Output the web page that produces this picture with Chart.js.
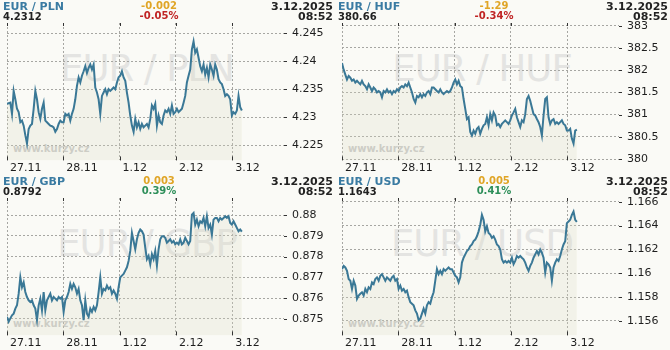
<!DOCTYPE html>
<html><head><meta charset="utf-8">
<script src="https://cdn.jsdelivr.net/npm/chart.js@4.4.1/dist/chart.umd.min.js"></script>
<style>
html,body{margin:0;padding:0;background:#FAFAF6;}
#wrap{position:relative;width:670px;height:350px;overflow:hidden;font-family:"DejaVu Sans",Verdana,sans-serif;background:#FAFAF6;}
.panel{position:absolute;width:335px;height:175px;overflow:hidden;}
.panel canvas{position:absolute;left:0;top:0;}
.wm{position:absolute;left:0;width:294px;top:50px;text-align:center;font-size:37px;line-height:37px;color:#E4E4E2;white-space:nowrap;letter-spacing:-1px;}
.site{position:absolute;left:13px;top:144px;font-weight:bold;font-size:10px;line-height:10px;color:#C8C8C6;white-space:nowrap;}
.t{position:absolute;white-space:nowrap;font-weight:bold;}
.name{left:3px;top:1px;font-size:11px;line-height:11px;color:#3A7BA2;}
.last{left:3px;top:12px;font-size:10px;line-height:10px;color:#222;}
.chg{left:109px;width:100px;text-align:center;top:1px;font-size:10px;line-height:10px;color:#E0A526;}
.pct{left:109px;width:100px;text-align:center;top:11px;font-size:10px;line-height:10px;}
.date{right:2px;top:1px;font-size:11px;line-height:11px;color:#222;text-align:right;}
.time{right:2px;top:11px;font-size:11px;line-height:11px;color:#222;text-align:right;}
</style>
</head><body>
<div id="wrap"></div>
<script>
// ---- data ----
const DAY_LABELS = ['27.11', '28.11', '1.12', '2.12', '3.12'];
const SAMPLE_DAYS = 5 / 169;   // interval between samples (days)
const DATE_TEXT = '3.12.2025';
const TIME_TEXT = '08:52';

const pairNames = ['EUR / PLN', 'EUR / HUF', 'EUR / GBP', 'EUR / USD'];
const lastValues = ['4.2312', '380.66', '0.8792', '1.1643'];
const changes = ['-0.002', '-1.29', '0.003', '0.005'];
const changePcts = ['-0.05%', '-0.34%', '0.39%', '0.41%'];

const plnValues = [4.2324,4.2325,4.2326,4.2306,4.2347,4.2332,4.2315,4.2309,4.2291,4.2294,4.2285,4.2268,4.2253,4.2279,4.2285,4.2288,4.2315,4.2347,4.2332,4.2309,4.2297,4.2315,4.2326,4.2294,4.2291,4.2288,4.2285,4.2284,4.2282,4.2274,4.2279,4.2288,4.2294,4.2291,4.2291,4.2306,4.2303,4.2306,4.2294,4.2306,4.2315,4.2332,4.2356,4.2371,4.2362,4.2374,4.2382,4.2391,4.2379,4.2388,4.2394,4.2385,4.2394,4.2353,4.2344,4.2332,4.2306,4.2338,4.2344,4.2350,4.2341,4.2350,4.2347,4.2350,4.2353,4.2350,4.2362,4.2371,4.2374,4.2382,4.2371,4.2365,4.2344,4.2326,4.2303,4.2285,4.2274,4.2297,4.2282,4.2291,4.2279,4.2288,4.2282,4.2285,4.2288,4.2282,4.2297,4.2321,4.2315,4.2324,4.2285,4.2303,4.2291,4.2288,4.2303,4.2312,4.2309,4.2315,4.2306,4.2321,4.2306,4.2309,4.2315,4.2309,4.2312,4.2315,4.2326,4.2338,4.2362,4.2374,4.2385,4.2421,4.2435,4.2415,4.2421,4.2406,4.2391,4.2382,4.2394,4.2376,4.2388,4.2371,4.2394,4.2385,4.2374,4.2394,4.2385,4.2368,4.2362,4.2359,4.2350,4.2338,4.2341,4.2338,4.2332,4.2303,4.2309,4.2306,4.2312,4.2338,4.2318,4.2312];

const hufValues = [382.16,382.01,381.90,381.79,381.87,381.83,381.76,381.79,381.72,381.76,381.72,381.68,381.76,381.68,381.64,381.57,381.68,381.61,381.53,381.61,381.57,381.50,381.53,381.50,381.39,381.53,381.50,381.57,381.50,381.53,381.46,381.53,381.50,381.57,381.53,381.61,381.64,381.61,381.68,381.64,381.72,381.61,381.50,381.35,381.27,381.42,381.39,381.46,381.39,381.46,381.42,381.50,381.53,381.46,381.61,381.61,381.57,381.53,381.50,381.57,381.50,381.46,381.50,381.53,381.50,381.53,381.61,381.72,381.79,381.68,381.76,381.64,381.61,381.35,381.13,380.90,380.94,380.61,380.53,380.64,380.57,380.68,380.72,380.57,380.68,380.76,380.79,380.94,380.76,381.01,380.87,381.05,380.98,380.76,380.79,380.72,380.79,380.83,380.87,380.83,380.79,380.87,380.98,381.05,381.13,380.94,380.83,380.72,380.87,380.83,381.01,381.35,381.42,381.31,381.16,381.01,380.98,380.90,380.83,380.72,380.53,380.98,381.35,381.39,380.94,380.79,380.87,380.90,380.79,380.83,380.79,380.83,380.87,380.79,380.76,380.64,380.64,380.68,380.46,380.35,380.64,380.66];

const gbpValues = [0.87510,0.87486,0.87502,0.87517,0.87525,0.87549,0.87565,0.87621,0.87700,0.87652,0.87676,0.87629,0.87605,0.87589,0.87581,0.87589,0.87565,0.87549,0.87494,0.87565,0.87597,0.87541,0.87629,0.87541,0.87589,0.87605,0.87621,0.87589,0.87605,0.87597,0.87589,0.87605,0.87597,0.87605,0.87533,0.87589,0.87605,0.87629,0.87668,0.87644,0.87668,0.87652,0.87621,0.87644,0.87589,0.87565,0.87494,0.87589,0.87525,0.87510,0.87549,0.87533,0.87557,0.87541,0.87565,0.87629,0.87700,0.87621,0.87644,0.87637,0.87660,0.87644,0.87652,0.87621,0.87637,0.87621,0.87597,0.87652,0.87700,0.87708,0.87716,0.87732,0.87748,0.87779,0.87827,0.87914,0.87875,0.87835,0.87883,0.87914,0.87930,0.87922,0.87906,0.87843,0.87787,0.87803,0.87763,0.87811,0.87787,0.87827,0.87756,0.87835,0.87883,0.87898,0.87898,0.87890,0.87867,0.87875,0.87883,0.87867,0.87875,0.87859,0.87867,0.87859,0.87883,0.87859,0.87867,0.87890,0.87875,0.87859,0.87875,0.88002,0.88010,0.87954,0.87978,0.87946,0.87970,0.87962,0.87986,0.87946,0.87994,0.87938,0.87954,0.87906,0.87978,0.87986,0.87986,0.87970,0.87986,0.87978,0.87986,0.87994,0.87986,0.87994,0.87962,0.87954,0.87970,0.87954,0.87938,0.87922,0.87930,0.87920];

const usdValues = [1.16034,1.16061,1.16048,1.16020,1.15951,1.15937,1.15868,1.15937,1.15896,1.15785,1.15813,1.15827,1.15840,1.15813,1.15868,1.15840,1.15882,1.15868,1.15923,1.15909,1.15951,1.15965,1.15937,1.15978,1.15992,1.15965,1.15937,1.15965,1.15951,1.15937,1.15965,1.15978,1.15937,1.15951,1.15868,1.15896,1.15854,1.15868,1.15840,1.15854,1.15799,1.15757,1.15744,1.15730,1.15688,1.15661,1.15606,1.15619,1.15661,1.15702,1.15661,1.15730,1.15757,1.15744,1.15799,1.15840,1.15937,1.16034,1.15992,1.16020,1.15992,1.16034,1.16020,1.16034,1.16048,1.16034,1.16034,1.16006,1.15978,1.15965,1.15923,1.15965,1.16089,1.16130,1.16158,1.16186,1.16199,1.16227,1.16241,1.16269,1.16282,1.16310,1.16351,1.16407,1.16489,1.16448,1.16351,1.16393,1.16338,1.16324,1.16296,1.16310,1.16282,1.16241,1.16227,1.16199,1.16117,1.16089,1.16103,1.16089,1.16103,1.16089,1.16130,1.16075,1.16103,1.16144,1.16130,1.16144,1.16130,1.16117,1.16089,1.16048,1.16020,1.16061,1.16089,1.16130,1.16158,1.16186,1.16158,1.16199,1.16172,1.16130,1.16006,1.16089,1.16075,1.16048,1.15937,1.16048,1.16089,1.16117,1.16103,1.16144,1.16199,1.16241,1.16269,1.16420,1.16434,1.16448,1.16489,1.16517,1.16448,1.16430];

const plnTicks = [4.225, 4.23, 4.235, 4.24, 4.245];
const hufTicks = [380, 380.5, 381, 381.5, 382, 382.5, 383];
const gbpTicks = [0.875, 0.876, 0.877, 0.878, 0.879, 0.88];
const usdTicks = [1.156, 1.158, 1.16, 1.162, 1.164, 1.166];

const plnRange = [4.2223, 4.2468];
const hufRange = [379.97, 383.06];
const gbpRange = [0.87420, 0.88082];
const usdRange = [1.15478, 1.16631];

const X_MAX = 4.92;

// ---- drawing ----
const LINE_COLOR = '#3A7896';
const GRID_COLOR = '#A6A6A2';
const TICK_FONT = {family: '"DejaVu Sans", Verdana, sans-serif', size: 11};

const gridEnds = {
  id: 'gridEnds',
  afterDraw(chart) {
    const {ctx, chartArea: a, scales: {x, y}} = chart;
    ctx.save();
    ctx.strokeStyle = '#333';
    ctx.lineWidth = 1;
    x.ticks.forEach(t => {
      const px = Math.round(x.getPixelForValue(t.value)) + 0.5;
      ctx.beginPath();
      ctx.moveTo(px, a.top); ctx.lineTo(px, a.top + 3);
      ctx.moveTo(px, a.bottom - 4); ctx.lineTo(px, a.bottom);
      ctx.stroke();
    });
    y.ticks.forEach(t => {
      const py = Math.round(y.getPixelForValue(t.value)) + 0.5;
      ctx.beginPath();
      ctx.moveTo(a.right, py); ctx.lineTo(a.right + 3, py);
      ctx.stroke();
    });
    ctx.restore();
  }
};

function fmt(v) { return String(Number(v.toFixed(6))); }

function makePanel(idx, left, top, values, ticks, range) {
  const wrap = document.getElementById('wrap');
  const p = document.createElement('div');
  p.className = 'panel';
  p.style.left = left + 'px';
  p.style.top = top + 'px';
  const up = !changes[idx].startsWith('-');
  p.innerHTML =
    '<div class="wm">' + pairNames[idx] + '</div>' +
    '<div class="site">www.kurzy.cz</div>' +
    '<canvas width="335" height="175"></canvas>' +
    '<div class="t name">' + pairNames[idx] + '</div>' +
    '<div class="t last">' + lastValues[idx] + '</div>' +
    '<div class="t chg">' + changes[idx] + '</div>' +
    '<div class="t pct" style="color:' + (up ? '#2E8F5A' : '#C02424') + '">' + changePcts[idx] + '</div>' +
    '<div class="t date">' + DATE_TEXT + '</div>' +
    '<div class="t time">' + TIME_TEXT + '</div>';
  wrap.appendChild(p);
  const canvas = p.querySelector('canvas');
  const pts = values.map((v, i) => ({x: i * SAMPLE_DAYS, y: v}));
  new Chart(canvas, {
    type: 'line',
    data: {datasets: [{
      data: pts, borderColor: LINE_COLOR, borderWidth: 2, pointRadius: 0,
      fill: 'start', backgroundColor: 'rgba(218,218,195,0.25)', tension: 0
    }]},
    options: {
      responsive: false, animation: false, events: [],
      layout: {padding: {left: 7, top: 23, right: 0, bottom: 0}},
      plugins: {legend: {display: false}, tooltip: {enabled: false}, title: {display: false}},
      scales: {
        x: {
          type: 'linear', min: 0, max: X_MAX,
          afterBuildTicks: s => { s.ticks = DAY_LABELS.map((l, i) => ({value: i})); },
          afterFit: s => { s.height = 13; s.paddingLeft = 0; s.paddingRight = 0; },
          grid: {color: GRID_COLOR, lineWidth: 1, drawTicks: false, borderDash: [2, 2]},
          border: {display: false, dash: [2, 2]},
          ticks: {
            callback: (v, i) => DAY_LABELS[i], autoSkip: false, maxRotation: 0,
            align: 'start', labelOffset: 3, padding: 1, font: TICK_FONT, color: '#1E1E1E'
          }
        },
        y: {
          position: 'right', min: range[0], max: range[1],
          afterBuildTicks: s => { s.ticks = ticks.map(v => ({value: v})); },
          afterFit: s => { s.width = 51; },
          grid: {color: GRID_COLOR, lineWidth: 1, drawTicks: false, borderDash: [2, 2]},
          border: {display: false, dash: [2, 2]},
          ticks: {callback: v => fmt(v), padding: 8, font: TICK_FONT, color: '#1E1E1E'}
        }
      }
    },
    plugins: [gridEnds]
  });
}

makePanel(0, 0, 0, plnValues, plnTicks, plnRange);
makePanel(1, 335, 0, hufValues, hufTicks, hufRange);
makePanel(2, 0, 175, gbpValues, gbpTicks, gbpRange);
makePanel(3, 335, 175, usdValues, usdTicks, usdRange);
</script>
</body></html>
